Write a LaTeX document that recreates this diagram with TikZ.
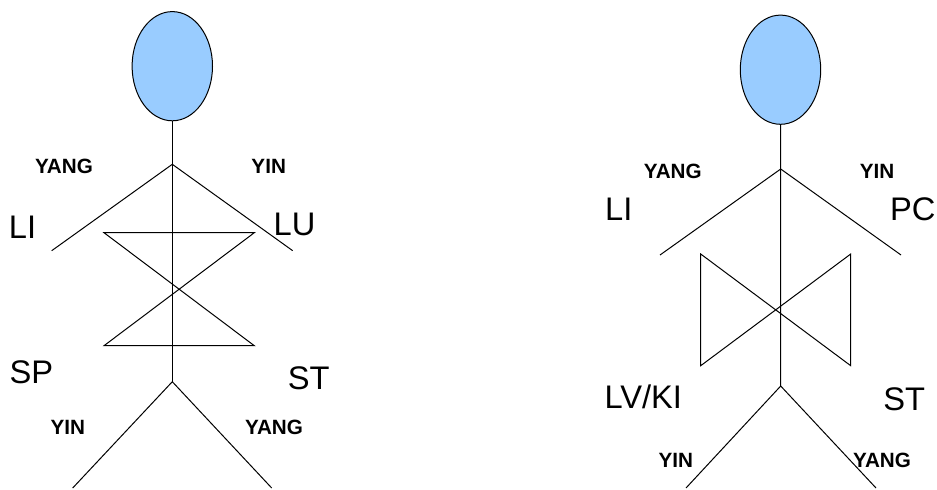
\documentclass[tikz,border=0pt]{standalone}
\usepackage{fontspec}
\setmainfont{Liberation Sans}
\usetikzlibrary{shapes.geometric}
\definecolor{headblue}{RGB}{153,204,255}

\tikzset{
  body/.style={line width=0.75pt},
  head/.style={ellipse, draw, body, fill=headblue, inner sep=0pt, minimum width=60.3pt, minimum height=81.9pt},
  organ/.style={inner sep=0pt,font=\fontsize{24.5}{29}\selectfont},
  pole/.style={inner sep=0pt,font=\bfseries\fontsize{15.5}{18}\selectfont}
}

\begin{document}
\begin{tikzpicture}[x=0.75pt,y=0.75pt,yscale=-1,xscale=1]
    \useasboundingbox (0,0) rectangle (937,489);

    %Figure 1
    %Shape: Ellipse [id:head1]
    \node (head1) [head] at (172.3,66.2) {};
    \coordinate (neck1) at (172.3,164.3);
    \coordinate (hip1) at (172.3,381.7);
    %Straight Lines [id:spine1]
    \draw [body] (head1.south) -- (hip1) ;
    %Straight Lines [id:arms1]
    \draw [body] (51.7,250.7) -- (neck1) -- (292.7,250.7) ;
    %Straight Lines [id:legs1]
    \draw [body] (72.7,488) -- (hip1) -- (271.7,488) ;
    %Shape: Hourglass [id:cross1]
    \draw [body] (104,232.7) -- (254.3,232.7) -- (104,345.7) -- (254.3,345.7) -- cycle ;

    % Text Node
    \node (yang1) [pole] at (64,166.7) {YANG};
    \node (yin1) [pole] at (268.7,166.7) {YIN};
    \node (li1) [organ] at (22.5,227) {LI};
    \node (lu1) [organ] at (294.5,224) {LU};
    \node (sp1) [organ] at (31.3,372.5) {SP};
    \node (st1) [organ] at (308.8,378) {ST};
    \node (yin1b) [pole] at (67.8,427.8) {YIN};
    \node (yang1b) [pole] at (274,427.8) {YANG};

    %Figure 2
    %Shape: Ellipse [id:head2]
    \node (head2) [head] at (780.5,69.7) {};
    \coordinate (neck2) at (780.7,169);
    \coordinate (hip2) at (780.7,386);
    %Straight Lines [id:spine2]
    \draw [body] (head2.south) -- (hip2) ;
    %Straight Lines [id:arms2]
    \draw [body] (660,255) -- (neck2) -- (901,255) ;
    %Straight Lines [id:legs2]
    \draw [body] (686,488) -- (hip2) -- (876,488) ;
    %Shape: Bowtie [id:cross2]
    \draw [body] (700.7,254) -- (850.7,365.7) -- (850.7,254) -- (700.7,365.7) -- cycle ;

    % Text Node
    \node (yang2) [pole] at (672.8,171.7) {YANG};
    \node (yin2) [pole] at (877,171.7) {YIN};
    \node (li2) [organ] at (618.7,208.8) {LI};
    \node (pc2) [organ] at (912.7,208.8) {PC};
    \node (lvki2) [organ] at (643.3,396.7) {LV/KI};
    \node (st2) [organ] at (904.2,399.5) {ST};
    \node (yin2b) [pole] at (675.8,460) {YIN};
    \node (yang2b) [pole] at (882,460) {YANG};
\end{tikzpicture}
\end{document}
